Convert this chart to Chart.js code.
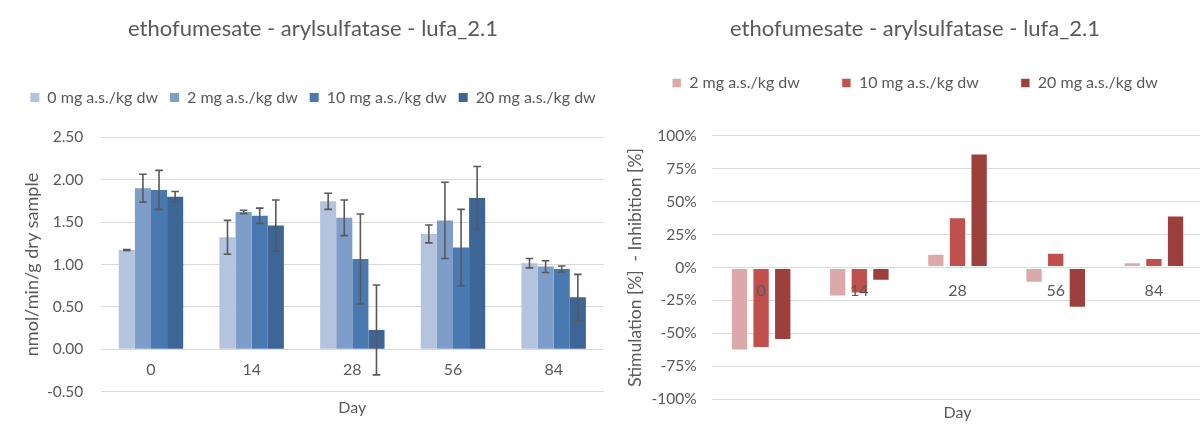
<!DOCTYPE html>
<html>
<head>
<meta charset="utf-8">
<script src="https://cdn.jsdelivr.net/npm/chart.js@4/dist/chart.umd.min.js"></script>
<style>
  html, body { margin: 0; padding: 0; background: #fff; overflow: hidden; width: 1200px; height: 432px; }
  canvas { position: absolute; top: 0; }
  #activity { left: 0; }
  #effect { left: 627px; }
</style>
</head>
<body>
<canvas id="activity" width="626" height="432"></canvas>
<canvas id="effect" width="576" height="432"></canvas>
<script>
// Sampling days
const days = ['0', '14', '28', '56', '84'];

// Application rates
const doseLabels = ['0 mg a.s./kg dw', '2 mg a.s./kg dw', '10 mg a.s./kg dw', '20 mg a.s./kg dw'];

// Arylsulfatase activity, mean (nmol/min/g dry sample)
const activity0  = [1.17, 1.32, 1.745, 1.36, 1.015];
const activity2  = [1.90, 1.62, 1.55, 1.52, 0.975];
const activity10 = [1.88, 1.575, 1.065, 1.20, 0.947];
const activity20 = [1.80, 1.46, 0.228, 1.785, 0.613];

// Standard deviations
const sd0  = [0.005, 0.20, 0.095, 0.105, 0.055];
const sd2  = [0.165, 0.02, 0.21, 0.45, 0.07];
const sd10 = [0.23, 0.09, 0.53, 0.45, 0.035];
const sd20 = [0.06, 0.30, 0.53, 0.37, 0.27];

// Effect relative to control (%)
const effect2  = [-63, -22, 10.4, -11.6, 4.0];
const effect10 = [-61, -19.7, 38.1, 11.1, 7.3];
const effect20 = [-55, -10, 86.4, -30.6, 39.4];

const blues = ['#b4c3de', '#7f9dc9', '#4a78b0', '#3d6596'];
const reds = ['#dba9a9', '#c0504d', '#9c3f3d'];

const TEXT = '#595959';
const GRID = '#d9d9d9';
const FONT = 'Lato, "Liberation Sans", sans-serif';
Chart.defaults.font.family = FONT;
Chart.defaults.color = TEXT;

// Extra room between the legend row and the plot
function legendGap(extra) {
  return {
    id: 'legendGap',
    beforeInit(chart) {
      const legend = chart.legend;
      const fit = legend.fit;
      legend.fit = function () {
        fit.call(this);
        this.height += extra;
      };
    }
  };
}

// Symmetric error bars on top of each bar
function errorBars(errors) {
  return {
    id: 'errorBars',
    afterDatasetsDraw(chart) {
      const { ctx } = chart;
      const y = chart.scales.y;
      ctx.save();
      ctx.strokeStyle = '#595959';
      ctx.lineWidth = 1.6;
      errors.forEach((err, d) => {
        const meta = chart.getDatasetMeta(d);
        const values = chart.data.datasets[d].data;
        meta.data.forEach((bar, i) => {
          const hi = y.getPixelForValue(values[i] + err[i]);
          const lo = y.getPixelForValue(values[i] - err[i]);
          const x = bar.x;
          const cap = 3.8;
          ctx.beginPath();
          ctx.moveTo(x, hi); ctx.lineTo(x, lo);
          ctx.moveTo(x - cap, hi); ctx.lineTo(x + cap, hi);
          ctx.moveTo(x - cap, lo); ctx.lineTo(x + cap, lo);
          ctx.stroke();
        });
      });
      ctx.restore();
    }
  };
}

// Day labels sitting just under the zero line
function zeroLineLabels(offset) {
  return {
    id: 'zeroLineLabels',
    afterDatasetsDraw(chart) {
      const { ctx } = chart;
      const { x, y } = chart.scales;
      const yPix = y.getPixelForValue(0) + offset;
      ctx.save();
      ctx.font = '16px ' + FONT;
      ctx.fillStyle = TEXT;
      ctx.textAlign = 'center';
      ctx.textBaseline = 'middle';
      chart.data.labels.forEach((lab, i) => ctx.fillText(lab, x.getPixelForValue(i), yPix));
      ctx.restore();
    }
  };
}

const titleText = 'ethofumesate - arylsulfatase - lufa_2.1';

new Chart(document.getElementById('activity'), {
  type: 'bar',
  data: {
    labels: days,
    datasets: [
      { label: doseLabels[0], data: activity0, backgroundColor: blues[0] },
      { label: doseLabels[1], data: activity2, backgroundColor: blues[1] },
      { label: doseLabels[2], data: activity10, backgroundColor: blues[2] },
      { label: doseLabels[3], data: activity20, backgroundColor: blues[3] }
    ]
  },
  options: {
    responsive: false,
    animation: false,
    layout: { padding: 0 },
    datasets: { bar: { categoryPercentage: 0.64, barPercentage: 1, borderWidth: 0 } },
    plugins: {
      title: {
        display: true, text: titleText, color: TEXT,
        font: { size: 22, weight: 'normal' },
        padding: { top: 15.8, bottom: 35.3 }
      },
      legend: {
        labels: { boxWidth: 9, boxHeight: 9, padding: 12, color: TEXT, font: { size: 16 } }
      },
      tooltip: { enabled: false }
    },
    scales: {
      x: {
        grid: { display: false }, border: { display: false }, ticks: { display: false },
        title: { display: true, text: 'Day', color: TEXT, font: { size: 16 }, padding: { top: 0, bottom: 14.9 } },
        afterFit: s => { s.height = 40.3; }
      },
      y: {
        min: -0.5, max: 2.5,
        ticks: { stepSize: 0.5, padding: 17.35, color: TEXT, font: { size: 15.5 }, callback: v => v.toFixed(2) },
        grid: { color: GRID, drawTicks: false, lineWidth: 1 },
        border: { display: false },
        title: { display: true, text: 'nmol/min/g dry sample', color: TEXT, font: { size: 18 }, padding: { top: 20.9, bottom: 0 } },
        afterFit: s => { s.width = 100.65; }
      },
      rightGap: {
        type: 'linear', position: 'right', display: true,
        grid: { display: false }, border: { display: false }, ticks: { display: false },
        afterFit: s => { s.width = 22; }
      }
    }
  },
  plugins: [legendGap(21.8), errorBars([sd0, sd2, sd10, sd20]), zeroLineLabels(20.5)]
});

new Chart(document.getElementById('effect'), {
  type: 'bar',
  data: {
    labels: days,
    datasets: [
      { label: doseLabels[1], data: effect2, backgroundColor: reds[0] },
      { label: doseLabels[2], data: effect10, backgroundColor: reds[1] },
      { label: doseLabels[3], data: effect20, backgroundColor: reds[2] }
    ]
  },
  options: {
    responsive: false,
    animation: false,
    layout: { padding: 0 },
    datasets: {
      bar: {
        categoryPercentage: 0.661, barPercentage: 0.8,
        borderWidth: 1, borderColor: 'rgba(255,255,255,0.55)', borderSkipped: false
      }
    },
    plugins: {
      title: {
        display: true, text: titleText, color: TEXT,
        font: { size: 22, weight: 'normal' },
        padding: { top: 15.8, bottom: -9.2 }
      },
      legend: {
        labels: { boxWidth: 9, boxHeight: 9, padding: 42, color: TEXT, font: { size: 16 } }
      },
      tooltip: { enabled: false }
    },
    scales: {
      x: {
        grid: { display: false }, border: { display: false }, ticks: { display: false },
        title: { display: true, text: 'Day', color: TEXT, font: { size: 16 }, padding: { top: 0, bottom: 9.9 } },
        afterFit: s => { s.height = 32.7; }
      },
      y: {
        min: -100, max: 100,
        ticks: { stepSize: 25, padding: 15.3, color: TEXT, font: { size: 15.5 }, callback: v => v + '%' },
        grid: { color: GRID, drawTicks: false, lineWidth: 1 },
        border: { display: false },
        title: { display: true, text: 'Stimulation [%]  - Inhibition [%]', color: TEXT, font: { size: 17.5, lineHeight: 1 }, padding: { top: 0, bottom: 0 } },
        afterFit: s => { s.width = 85; }
      }
    }
  },
  plugins: [legendGap(34.7), zeroLineLabels(23.3)]
});
</script>
</body>
</html>
